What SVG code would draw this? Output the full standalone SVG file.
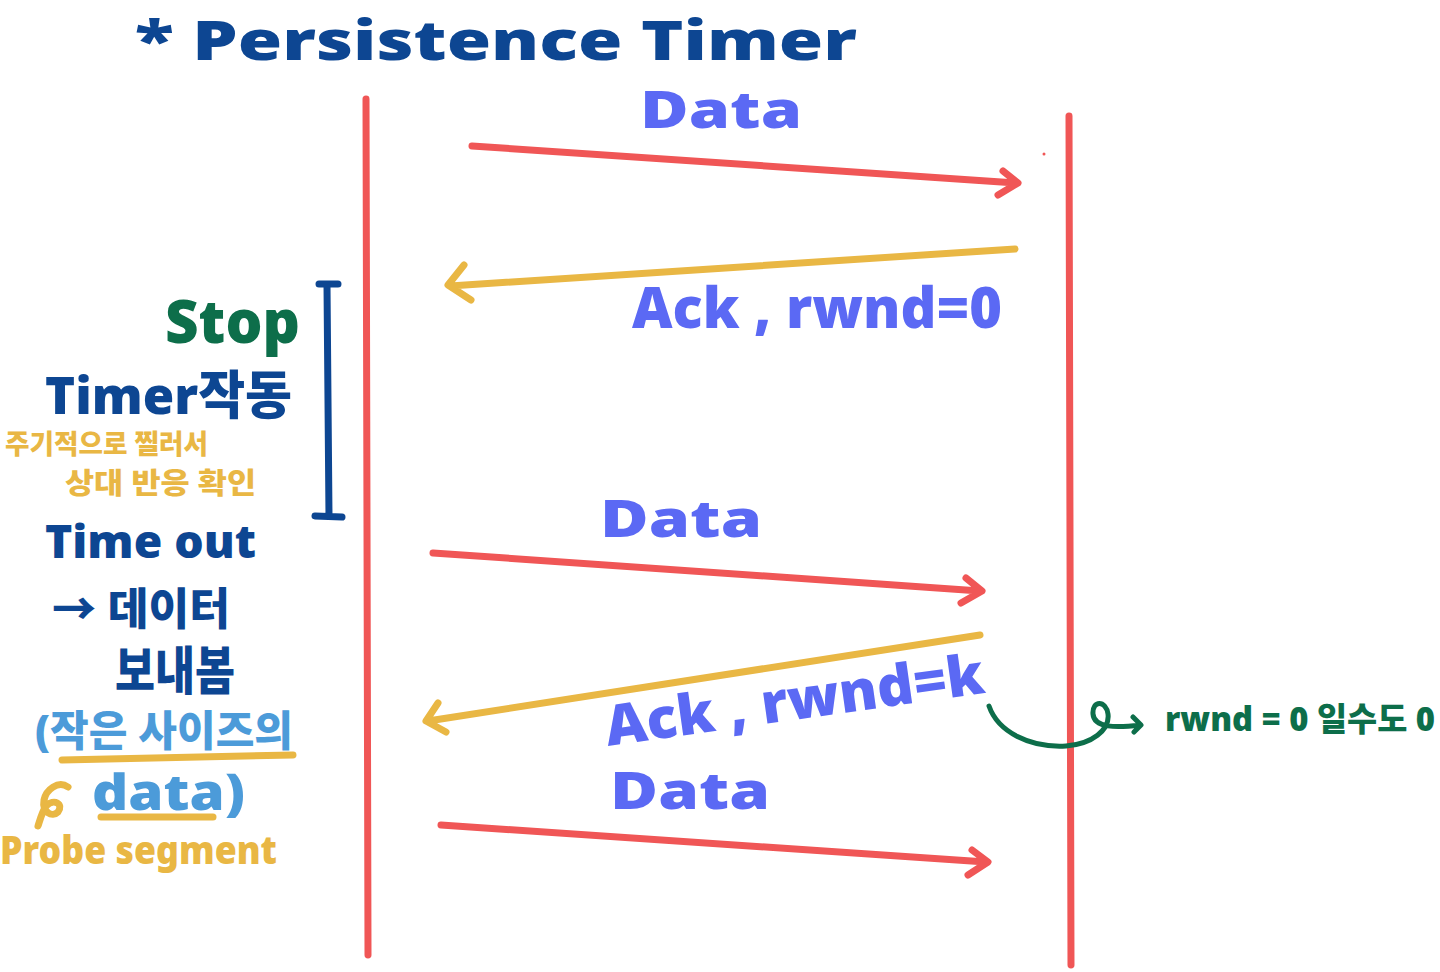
<svg xmlns="http://www.w3.org/2000/svg" width="1440" height="972" viewBox="0 0 1440 972">
<style>
.t{font-family:"Noto Sans","Noto Sans CJK KR",sans-serif;font-weight:900}
.navy{fill:#0d4692}
.purple{fill:#5b69f4}
.green{fill:#0d6e4a}
.yellow{fill:#e9b744}
.lblue{fill:#4c9bd9}
.red{stroke:#f05656;fill:none;stroke-width:7;stroke-linecap:round;stroke-linejoin:round}
.yel{stroke:#e9b744;fill:none;stroke-width:7;stroke-linecap:round;stroke-linejoin:round}
</style>
<rect width="1440" height="972" fill="#ffffff"/>
<g id="lifelines">
<path class="red" d="M366,99 L368,955" stroke-width="6"/>
<path class="red" d="M1069,116 L1071,965" stroke-width="6"/>
<circle cx="1044" cy="154" r="1.5" fill="#f05656"/>
</g>
<g id="connectors">
<path class="red" d="M472,146 L1016,183 M1003,171 L1018,183 L998,195"/>
<path class="yel" d="M1015,249 L450,286 M464,265 L448,285 L471,300"/>
<path class="red" d="M433,553 L980,591 M966,578 L982,591 L961,603"/>
<path class="yel" d="M980,635 L428,721 M438,703 L426,721 L446,732"/>
<path class="red" d="M441,825 L986,862 M972,850 L988,862 L968,875"/>
<path fill="none" stroke="#0d4692" stroke-width="7" stroke-linecap="round" d="M327,285 L329,516 M319,284 L338,284 M315,516 L342,517"/>
</g>
<g id="title"><text class="t navy" x="135" y="60" font-size="54" textLength="722" lengthAdjust="spacingAndGlyphs">* Persistence  Timer</text></g>
<g id="msg1"><text class="t purple" x="640" y="128" font-size="52" textLength="162" lengthAdjust="spacingAndGlyphs">Data</text></g>
<g id="msg2"><text class="t purple" x="632" y="328" font-size="56" textLength="370" lengthAdjust="spacingAndGlyphs">Ack , rwnd=0</text></g>
<g id="msg3"><text class="t purple" x="600" y="537" font-size="52" textLength="162" lengthAdjust="spacingAndGlyphs">Data</text></g>
<g id="msg4"><text class="t purple" x="608" y="746" font-size="56" textLength="382" lengthAdjust="spacingAndGlyphs" transform="rotate(-8 608 746)">Ack , rwnd=k</text></g>
<g id="msg5"><text class="t purple" x="610" y="809" font-size="52" textLength="160" lengthAdjust="spacingAndGlyphs">Data</text></g>
<g id="stop"><text class="t green" x="165" y="343" font-size="60" textLength="135" lengthAdjust="spacingAndGlyphs">Stop</text></g>
<g id="timer"><text class="t navy" x="45" y="414" font-size="52" textLength="247" lengthAdjust="spacingAndGlyphs">Timer작동</text></g>
<g id="note1">
<text class="t yellow" x="5" y="454" font-size="27" textLength="203" lengthAdjust="spacingAndGlyphs">주기적으로 찔러서</text>
<text class="t yellow" x="65" y="494" font-size="29" textLength="191" lengthAdjust="spacingAndGlyphs">상대 반응 확인</text>
</g>
<g id="timeout">
<text class="t navy" x="45" y="558" font-size="46" textLength="211" lengthAdjust="spacingAndGlyphs">Time out</text>
<text class="t navy" x="52" y="625" font-size="44" textLength="178" lengthAdjust="spacingAndGlyphs">→ 데이터</text>
<text class="t navy" x="115" y="690" font-size="52" textLength="120" lengthAdjust="spacingAndGlyphs">보내봄</text>
</g>
<g id="small">
<text class="t lblue" x="35" y="746" font-size="42" textLength="258" lengthAdjust="spacingAndGlyphs">(작은 사이즈의</text>
<path class="yel" stroke-width="6" d="M62,760 L293,755"/>
<text class="t lblue" x="92" y="810" font-size="50" textLength="153" lengthAdjust="spacingAndGlyphs">data)</text>
<path class="yel" stroke-width="6" d="M101,817 L213,817"/>
<path class="yel" stroke-width="6" d="M68,787 C58,780 46,790 44,800 C42,812 52,818 58,812 C64,804 54,798 46,806 C42,812 40,820 38,826"/>
</g>
<g id="probe"><text class="t yellow" x="0" y="864" font-size="38" textLength="277" lengthAdjust="spacingAndGlyphs">Probe  segment</text></g>
<g id="rwndnote">
<path fill="none" stroke="#0d6e4a" stroke-width="5" stroke-linecap="round" stroke-linejoin="round" d="M989,706 C998,732 1030,748 1066,746 C1092,744 1110,730 1108,714 C1106,700 1092,700 1093,714 C1094,728 1116,728 1140,725 M1133,717 L1141,725 L1134,732"/>
<text class="t green" x="1165" y="731" font-size="33" textLength="270" lengthAdjust="spacingAndGlyphs">rwnd = 0 일수도 0</text>
</g>
</svg>
